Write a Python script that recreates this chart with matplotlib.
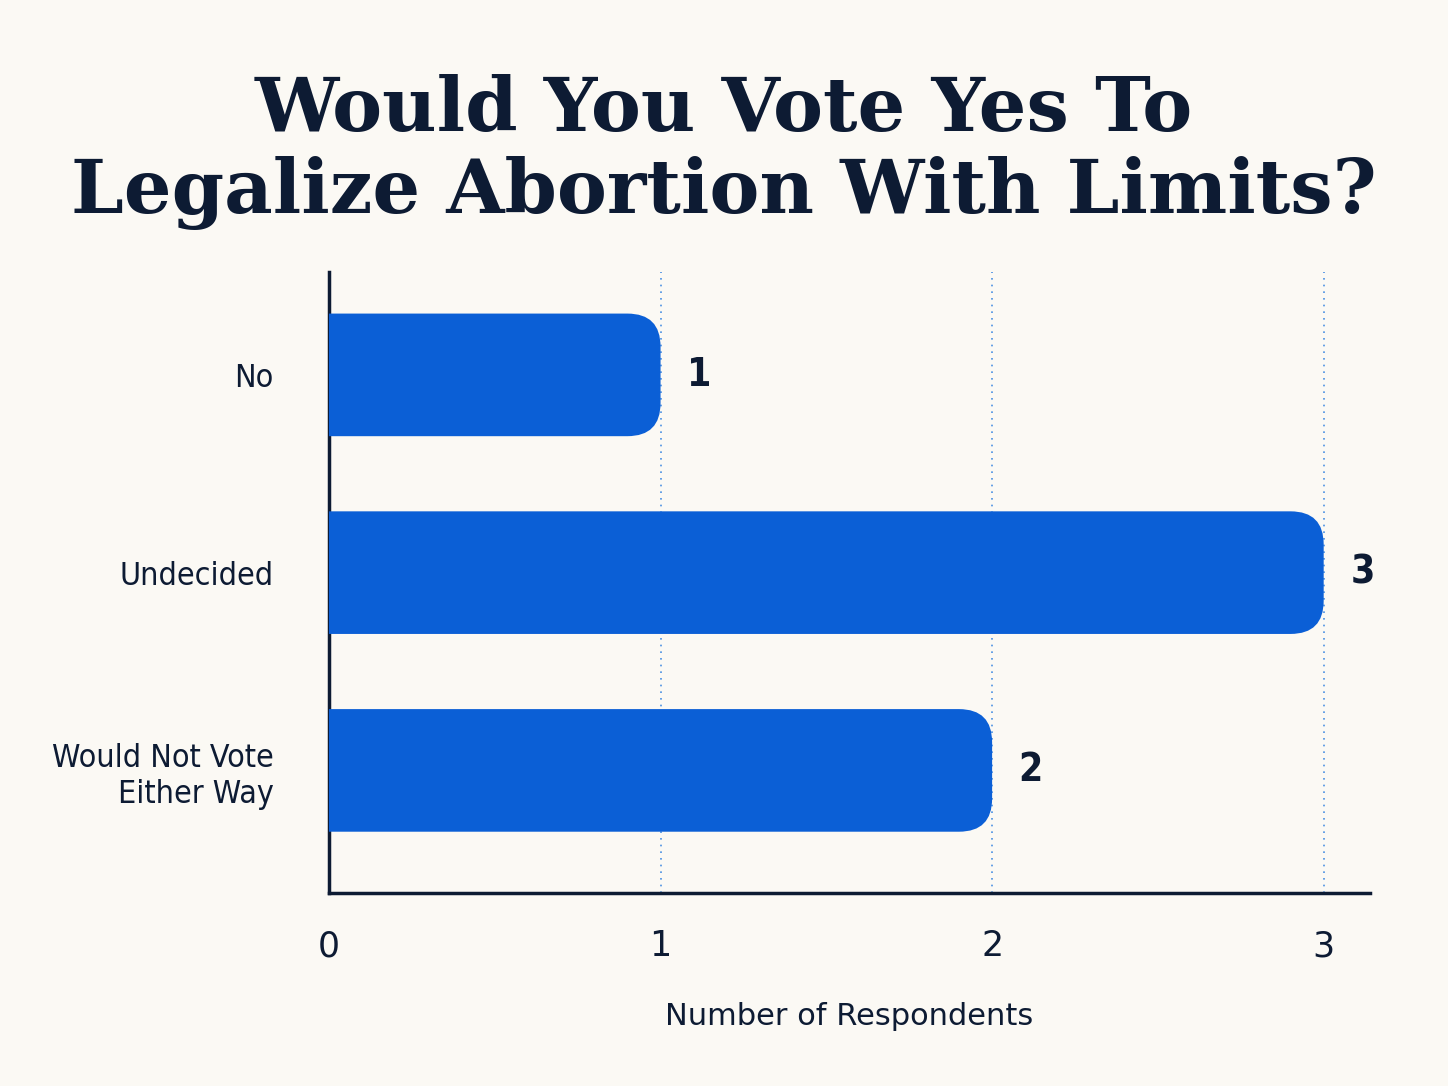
import matplotlib.pyplot as plt
from matplotlib.patches import FancyBboxPatch

# data
categories = ["No", "Undecided", "Would Not Vote\nEither Way"]
counts = [1, 3, 2]
ticks = [0, 1, 2, 3]

bg = "#FBF9F4"
bar_color = "#0B5FD6"
ink = "#0D1B33"

fig = plt.figure(figsize=(14.48, 10.86), dpi=100, facecolor=bg)
ax = fig.add_axes([0.2272, 0.1777, 0.719, 0.5718], facecolor=bg)

ax.set_xlim(0, 3.14)
ax.set_ylim(2.62, -0.52)

# rounded bars (left side pushed past the axis so only right end shows rounded)
bar_h = 0.62
for i, v in enumerate(counts):
    p = FancyBboxPatch((-0.3, i - bar_h / 2), v + 0.3, bar_h,
                       boxstyle="round,pad=0,rounding_size=0.1",
                       mutation_aspect=1.68, fc=bar_color, ec="none", zorder=3)
    ax.add_patch(p)
    ax.text(v + 0.08, i, str(v), va="center", ha="left", fontsize=28,
            color=ink, fontstretch="condensed", fontweight="semibold")

for t in ticks[1:]:
    ax.axvline(t, color="#4A90E2", ls=(0, (1, 3)), lw=1.2, zorder=1)

ax.set_yticks(range(len(categories)))
ax.set_yticklabels(categories, fontsize=23, color=ink, ha="right",
                   fontstretch="condensed")
ax.set_xticks(ticks)
ax.set_xticklabels([str(t) for t in ticks], fontsize=25, color=ink)
ax.tick_params(length=0, pad=26)
ax.tick_params(axis="y", pad=40)
for s in ["top", "right"]:
    ax.spines[s].set_visible(False)
for s in ["left", "bottom"]:
    ax.spines[s].set_color(ink)
    ax.spines[s].set_linewidth(2.5)

ax.set_xlabel("Number of Respondents", fontsize=22, color=ink, labelpad=28)

fig.text(0.5, 0.86, "Would You Vote Yes To\nLegalize Abortion With Limits?",
         ha="center", va="center", fontsize=54, fontweight="bold",
         family="DejaVu Serif", color=ink, linespacing=1.15)

fig.savefig("out.png", dpi=100, facecolor=bg)
